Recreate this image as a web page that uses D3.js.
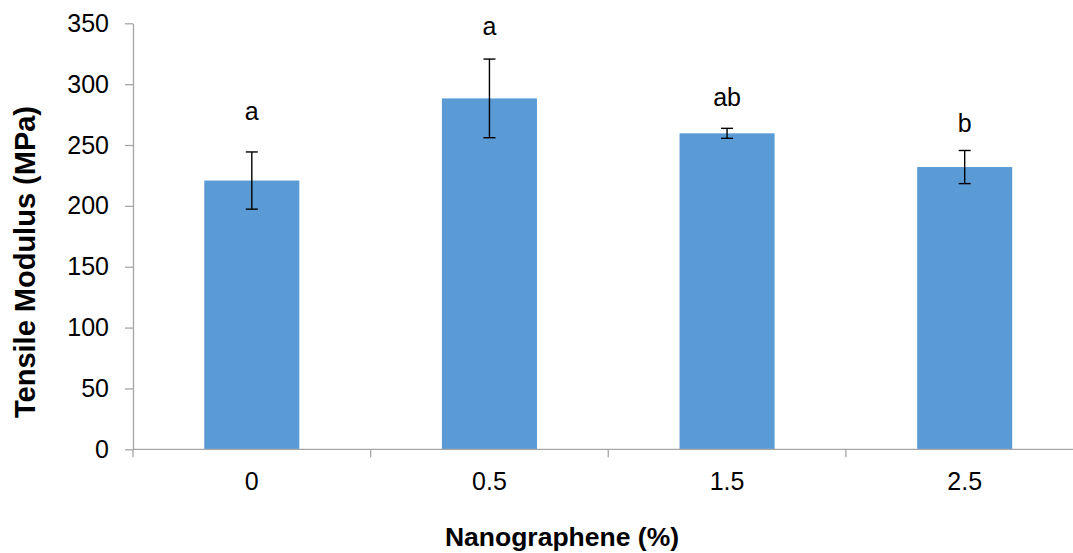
<!DOCTYPE html>
<html>
<head>
<meta charset="utf-8">
<script src="https://cdn.jsdelivr.net/npm/d3@7"></script>
<style>
  body { margin: 0; background: #fff; }
  text { font-family: "Liberation Sans", Arial, sans-serif; }
</style>
</head>
<body>
<div id="chart"></div>
<script>
// values
const categories = ["0", "0.5", "1.5", "2.5"];
const modulus = [220.8, 288.3, 259.6, 231.9];
const errors = [23.5, 32.3, 4.1, 13.6];
const letters = ["a", "a", "ab", "b"];
// where the letters sit, in MPa
const letterAt = [270.6, 340.5, 282, 261];
const yTicks = [0, 50, 100, 150, 200, 250, 300, 350];

const width = 1073;
const height = 553;
const margin = { top: 23.3, right: -10.5, bottom: 103.7, left: 133 };

const svg = d3
  .select("#chart")
  .append("svg")
  .attr("width", width)
  .attr("height", height);

const x = d3
  .scaleBand()
  .domain(categories)
  .range([margin.left, width - margin.right])
  .paddingInner(0.6)
  .paddingOuter(0.3);

const y = d3
  .scaleLinear()
  .domain([0, 350])
  .range([height - margin.bottom, margin.top]);

const axisColor = "#a6a6a6";

// bars
svg
  .selectAll("rect.bar")
  .data(modulus)
  .enter()
  .append("rect")
  .attr("class", "bar")
  .attr("x", (d, i) => x(categories[i]))
  .attr("y", (d) => y(d))
  .attr("width", x.bandwidth())
  .attr("height", (d) => y(0) - y(d))
  .attr("fill", "#5b9bd5");

// y axis
const yAxis = svg
  .append("g")
  .attr("transform", `translate(${margin.left},0)`)
  .call(d3.axisLeft(y).tickValues(yTicks).tickSize(8).tickPadding(16).tickSizeOuter(0));
yAxis.selectAll("path, line").attr("stroke", axisColor).attr("stroke-width", 1.3);
yAxis.selectAll("text").style("font-size", "25px").attr("fill", "#000");

// x axis line and category ticks
const xAxis = svg.append("g");
xAxis
  .append("line")
  .attr("x1", margin.left)
  .attr("x2", width - margin.right)
  .attr("y1", y(0))
  .attr("y2", y(0))
  .attr("stroke", axisColor)
  .attr("stroke-width", 1.3);
const bounds = categories.map((c) => x(c) - (x.step() - x.bandwidth()) / 2);
xAxis
  .selectAll("line.tick")
  .data(bounds)
  .enter()
  .append("line")
  .attr("class", "tick")
  .attr("x1", (d) => d)
  .attr("x2", (d) => d)
  .attr("y1", y(0))
  .attr("y2", y(0) + 8)
  .attr("stroke", axisColor)
  .attr("stroke-width", 1.3);
xAxis
  .selectAll("text")
  .data(categories)
  .enter()
  .append("text")
  .attr("x", (d) => x(d) + x.bandwidth() / 2)
  .attr("y", 490)
  .attr("text-anchor", "middle")
  .style("font-size", "25px")
  .text((d) => d);

// error bars
const err = svg
  .selectAll("g.err")
  .data(modulus)
  .enter()
  .append("g")
  .attr("class", "err")
  .attr("transform", (d, i) => `translate(${x(categories[i]) + x.bandwidth() / 2},0)`)
  .attr("stroke", "#000")
  .attr("stroke-width", 1.4);
err
  .append("line")
  .attr("y1", (d, i) => y(d + errors[i]))
  .attr("y2", (d, i) => y(d - errors[i]));
err
  .append("line")
  .attr("x1", -6)
  .attr("x2", 6)
  .attr("y1", (d, i) => y(d + errors[i]))
  .attr("y2", (d, i) => y(d + errors[i]));
err
  .append("line")
  .attr("x1", -6)
  .attr("x2", 6)
  .attr("y1", (d, i) => y(d - errors[i]))
  .attr("y2", (d, i) => y(d - errors[i]));

// significance letters
svg
  .selectAll("text.letter")
  .data(letters)
  .enter()
  .append("text")
  .attr("class", "letter")
  .attr("x", (d, i) => x(categories[i]) + x.bandwidth() / 2)
  .attr("y", (d, i) => y(letterAt[i]))
  .attr("text-anchor", "middle")
  .style("font-size", "25px")
  .text((d) => d);

// axis titles
svg
  .append("text")
  .attr("x", 562)
  .attr("y", 546)
  .attr("text-anchor", "middle")
  .style("font-size", "26.5px")
  .style("font-weight", "bold")
  .text("Nanographene (%)");

svg
  .append("text")
  .attr("transform", "translate(35,262) rotate(-90)")
  .attr("text-anchor", "middle")
  .style("font-size", "29px")
  .style("font-weight", "bold")
  .text("Tensile Modulus (MPa)");
</script>
</body>
</html>
